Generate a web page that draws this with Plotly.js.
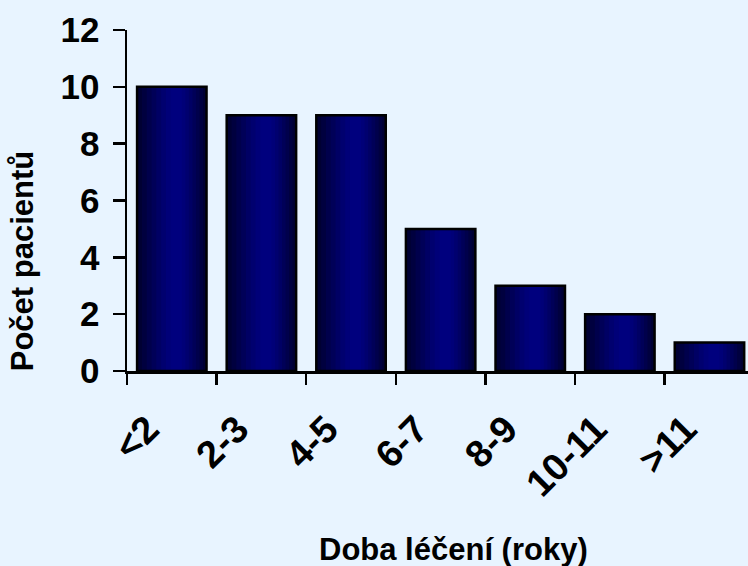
<!DOCTYPE html>
<html>
<head>
<meta charset="utf-8">
<script src="https://cdn.plot.ly/plotly-3.0.1.min.js"></script>
<style>html,body{margin:0;padding:0;background:#E8F4FF;}#chart{width:748px;height:566px;}</style>
</head>
<body>
<div id="chart"></div>
<script>
const categories = ['<2', '2-3', '4-5', '6-7', '8-9', '10-11', '>11'];
const patients = [10, 9, 9, 5, 3, 2, 1];
const yTicks = [0, 2, 4, 6, 8, 10, 12];
const xTitle = 'Doba léčení (roky)';
const yTitle = 'Počet pacientů';

const FONT = 'Arial, "Liberation Sans", sans-serif';
const BAR_W = 0.775;
// layered bars to imitate the horizontal gradient (dark edges, bright centre)
const layers = [
  {w: 1.00, c: '#000033'},
  {w: 0.88, c: '#00003f'},
  {w: 0.76, c: '#00004c'},
  {w: 0.64, c: '#000058'},
  {w: 0.52, c: '#000064'},
  {w: 0.40, c: '#00006f'},
  {w: 0.28, c: '#000078'},
  {w: 0.16, c: '#00007e'}
];
const traces = layers.map(l => ({
  type: 'bar', x: categories, y: patients,
  width: BAR_W * l.w, offset: -BAR_W * l.w / 2 + 0.06 * (1 - l.w),
  marker: {color: l.c, line: {width: 0}},
  hoverinfo: 'skip', showlegend: false
}));
traces.push({
  type: 'bar', x: categories, y: patients, width: BAR_W,
  marker: {color: 'rgba(0,0,0,0)', line: {color: '#000000', width: 2.5}},
  hoverinfo: 'skip', showlegend: false
});

const layout = {
  width: 748, height: 566,
  paper_bgcolor: '#E8F4FF', plot_bgcolor: '#E8F4FF',
  margin: {l: 127, r: 0, t: 30, b: 195},
  barmode: 'overlay',
  showlegend: false,
  xaxis: {
    type: 'category', range: [-0.5, 6.43],
    tickson: 'boundaries', ticks: 'outside', ticklen: 11, tickwidth: 2.5, tickcolor: '#000',
    showline: true, linecolor: '#000', linewidth: 2.5,
    showgrid: false, zeroline: false,
    tickangle: -45,
    tickfont: {family: FONT, size: 38, color: '#000', weight: 'bold'},
    ticklabelstandoff: 18,
    ticklabelshift: -24
  },
  yaxis: {
    range: [0, 12], tickvals: yTicks, ticktext: yTicks.map(String),
    ticks: 'outside', ticklen: 12, tickwidth: 2.5, tickcolor: '#000',
    showline: true, linecolor: '#000', linewidth: 2.5,
    showgrid: false, zeroline: false,
    tickfont: {family: FONT, size: 35, color: '#000', weight: 'bold'},
    ticklabelstandoff: 6
  },
  annotations: [
    {text: xTitle, xref: 'paper', yref: 'paper', x: 0.526, y: -0.522, xanchor: 'center', yanchor: 'middle',
     showarrow: false, font: {family: FONT, size: 31, color: '#000', weight: 'bold'}},
    {text: yTitle, xref: 'paper', yref: 'paper', x: -0.167, y: 0.3226, xanchor: 'center', yanchor: 'middle',
     textangle: -90, showarrow: false, font: {family: FONT, size: 31, color: '#000', weight: 'bold'}}
  ]
};
Plotly.newPlot('chart', traces, layout, {displayModeBar: false, staticPlot: true});
</script>
</body>
</html>
